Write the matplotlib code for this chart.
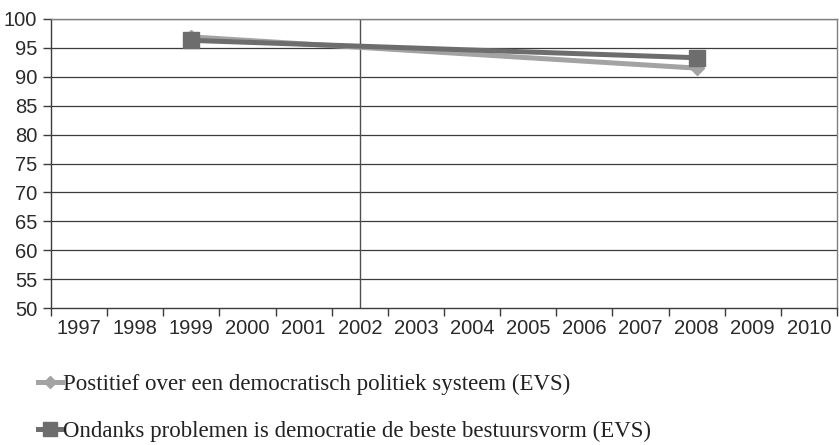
import matplotlib
matplotlib.use("Agg")
import matplotlib.pyplot as plt
import numpy as np

years = ["1997", "1998", "1999", "2000", "2001", "2002", "2003", "2004",
         "2005", "2006", "2007", "2008", "2009", "2010"]
positief = [None, None, 96.9, None, None, None, None, None, None, None, None, 91.5, None, None]
ondanks = [None, None, 96.3, None, None, None, None, None, None, None, None, 93.3, None, None]
label_positief = "Postitief over een democratisch politiek systeem (EVS)"
label_ondanks = "Ondanks problemen is democratie de beste bestuursvorm (EVS)"
marker_year = "2002"
yticks = [50, 55, 60, 65, 70, 75, 80, 85, 90, 95, 100]

fig = plt.figure(figsize=(8.39, 4.45), dpi=100)
ax = fig.add_axes([51/839, 1-308/445, (837-51)/839, (308-19)/445])

x = np.arange(len(years))
def series(vals):
    xs = [i for i, v in enumerate(vals) if v is not None]
    ys = [v for v in vals if v is not None]
    return xs, ys

grid_c = "#3c3c3c"
for yv in yticks[1:]:
    ax.axhline(yv, color=grid_c, lw=0.9, zorder=1)
ax.axvline(years.index(marker_year), color="#505050", lw=1.0, zorder=1)

xs, ys = series(positief)
l1, = ax.plot(xs, ys, color="#a3a3a3", lw=3.6, marker="D", markersize=7.5,
              markerfacecolor="#a3a3a3", markeredgecolor="#a3a3a3", zorder=3,
              label=label_positief)
xs, ys = series(ondanks)
l2, = ax.plot(xs, ys, color="#6d6d6d", lw=3.6, marker="s", markersize=11.5,
              markerfacecolor="#6d6d6d", markeredgecolor="#6d6d6d", zorder=4,
              label=label_ondanks)

ax.set_xlim(-0.5, len(years) - 0.5)
ax.set_ylim(50, 100)
ax.set_yticks(yticks)
ax.set_yticklabels([str(v) for v in yticks])
ax.set_xticks(x)
ax.set_xticklabels(years)
ax.set_xticks(np.arange(-0.5, len(years)), minor=True)
ax.tick_params(axis="x", which="major", length=0, pad=8, labelsize=14.5, labelcolor="#2a2a2a")
ax.tick_params(axis="x", which="minor", length=6, width=1, color="#3c3c3c", direction="out")
ax.tick_params(axis="y", length=6, width=1, color="#3c3c3c", pad=4, labelsize=14.5, labelcolor="#2a2a2a")
for lab in ax.get_xticklabels() + ax.get_yticklabels():
    lab.set_family("Liberation Sans")

for s in ["left", "bottom"]:
    ax.spines[s].set_color("#3c3c3c")
    ax.spines[s].set_linewidth(1.0)
ax.spines["right"].set_color("#808080")
ax.spines["right"].set_linewidth(1.0)
ax.spines["top"].set_color("#808080")
ax.spines["top"].set_linewidth(1.0)

leg = fig.legend(handles=[l1, l2], loc="upper left", bbox_to_anchor=(38/839, 1-374/445),
                 frameon=False, handlelength=1.05, handletextpad=0.05, labelspacing=1.1,
                 prop={"family": "Liberation Serif", "size": 16.5}, borderaxespad=0,
                 borderpad=0, markerscale=0.85)
for t in leg.get_texts():
    t.set_color("#222222")

fig.savefig("out.png", dpi=100)
